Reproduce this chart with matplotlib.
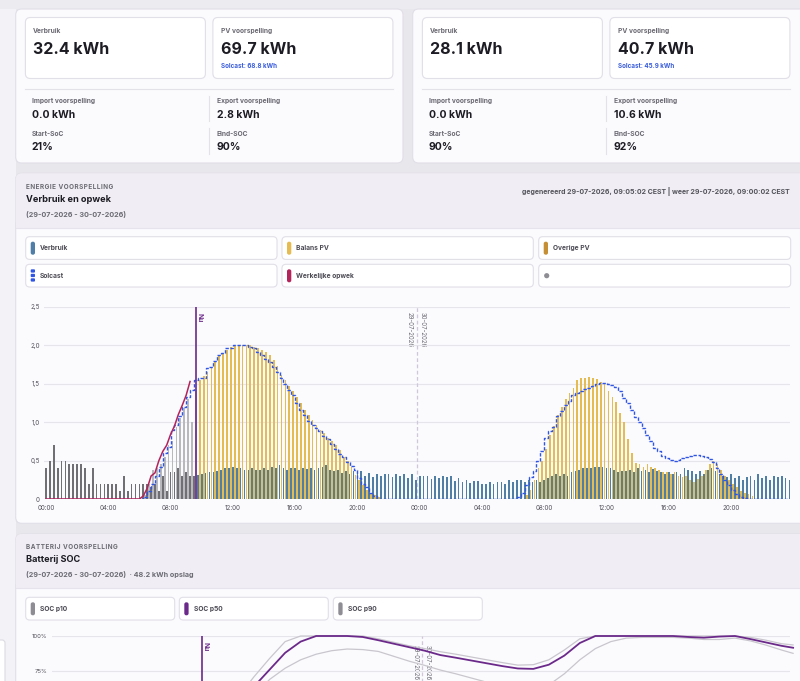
import numpy as np
import matplotlib.pyplot as plt
from matplotlib.patches import FancyBboxPatch, Rectangle, Circle

W, H = 800, 681
plt.rcParams['font.family'] = ['Inter', 'DejaVu Sans']

# ---- energy chart data (15 minute slots, two days) ----
verbruik = [
    0.40, 0.50, 0.70, 0.40, 0.50, 0.50, 0.45, 0.45,
    0.45, 0.45, 0.40, 0.20, 0.40, 0.20, 0.20, 0.20,
    0.20, 0.20, 0.20, 0.10, 0.30, 0.10, 0.20, 0.20,
    0.20, 0.20, 0.20, 0.15, 0.20, 0.10, 0.30, 0.10,
    0.35, 0.35, 0.40, 0.30, 0.35, 0.30, 0.30, 0.31,
    0.33, 0.34, 0.35, 0.35, 0.36, 0.38, 0.40, 0.41,
    0.42, 0.41, 0.40, 0.38, 0.38, 0.40, 0.38, 0.38,
    0.40, 0.38, 0.42, 0.40, 0.44, 0.40, 0.38, 0.40,
    0.40, 0.38, 0.40, 0.39, 0.40, 0.38, 0.40, 0.42,
    0.44, 0.38, 0.36, 0.38, 0.34, 0.36, 0.32, 0.36,
    0.34, 0.36, 0.30, 0.34, 0.28, 0.32, 0.30, 0.33,
    0.32, 0.28, 0.32, 0.30, 0.32, 0.27, 0.32, 0.25,
    0.30, 0.30, 0.30, 0.26, 0.30, 0.27, 0.30, 0.28,
    0.30, 0.24, 0.27, 0.22, 0.25, 0.21, 0.24, 0.24,
    0.20, 0.20, 0.22, 0.20, 0.22, 0.22, 0.20, 0.25,
    0.22, 0.25, 0.25, 0.22, 0.25, 0.22, 0.25, 0.22,
    0.25, 0.27, 0.30, 0.32, 0.30, 0.33, 0.30, 0.35,
    0.37, 0.38, 0.40, 0.40, 0.41, 0.42, 0.42, 0.42,
    0.41, 0.40, 0.38, 0.35, 0.37, 0.36, 0.38, 0.35,
    0.40, 0.36, 0.38, 0.35, 0.39, 0.36, 0.35, 0.32,
    0.35, 0.33, 0.35, 0.32, 0.40, 0.38, 0.36, 0.33,
    0.36, 0.33, 0.38, 0.40, 0.36, 0.33, 0.30, 0.28,
    0.32, 0.27, 0.30, 0.25, 0.28, 0.30, 0.25, 0.32,
    0.27, 0.30, 0.25, 0.30, 0.28, 0.30, 0.27, 0.25,
]

pv = [
    0, 0, 0, 0, 0, 0, 0, 0,
    0, 0, 0, 0, 0, 0, 0, 0,
    0, 0, 0, 0, 0, 0, 0, 0,
    0.00, 0.05, 0.20, 0.38, 0.40, 0.45, 0.55, 0.70,
    0.75, 0.94, 1.05, 1.18, 1.30, 1.00, 1.42, 1.55,
    1.60, 1.66, 1.72, 1.79, 1.86, 1.90, 1.94, 1.98,
    1.99, 2.00, 2.00, 2.00, 2.00, 1.98, 1.96, 1.94,
    1.92, 1.88, 1.81, 1.73, 1.62, 1.55, 1.47, 1.40,
    1.33, 1.25, 1.16, 1.10, 1.03, 0.97, 0.90, 0.86,
    0.79, 0.75, 0.70, 0.64, 0.55, 0.49, 0.42, 0.31,
    0.25, 0.18, 0.12, 0.07, 0.05, 0.03, 0.00, 0.00,
    0, 0, 0, 0, 0, 0, 0, 0,
    0, 0, 0, 0, 0, 0, 0, 0,
    0, 0, 0, 0, 0, 0, 0, 0,
    0, 0, 0, 0, 0, 0, 0, 0,
    0.00, 0.00, 0.00, 0.05, 0.12, 0.25, 0.40, 0.50,
    0.65, 0.83, 0.95, 1.10, 1.20, 1.30, 1.38, 1.45,
    1.55, 1.57, 1.58, 1.59, 1.58, 1.56, 1.52, 1.50,
    1.40, 1.33, 1.26, 1.12, 1.00, 0.78, 0.60, 0.47,
    0.45, 0.42, 0.45, 0.42, 0.40, 0.38, 0.35, 0.35,
    0.33, 0.35, 0.30, 0.28, 0.30, 0.25, 0.22, 0.26,
    0.30, 0.38, 0.45, 0.50, 0.45, 0.38, 0.30, 0.25,
    0.20, 0.15, 0.10, 0.08, 0.06, 0.04, 0.00, 0.00,
    0, 0, 0, 0, 0, 0, 0, 0,
]

solcast = [
    0, 0, 0, 0, 0, 0, 0, 0,
    0, 0, 0, 0, 0, 0, 0, 0,
    0, 0, 0, 0, 0, 0, 0, 0,
    0.00, 0.03, 0.10, 0.20, 0.30, 0.42, 0.60, 0.68,
    0.90, 0.97, 1.08, 1.20, 1.33, 1.42, 1.55, 1.57,
    1.57, 1.70, 1.72, 1.80, 1.88, 1.90, 1.96, 1.97,
    2.00, 2.00, 2.01, 2.01, 1.98, 1.96, 1.92, 1.88,
    1.82, 1.78, 1.72, 1.65, 1.57, 1.50, 1.42, 1.35,
    1.25, 1.16, 1.10, 1.02, 0.97, 0.93, 0.88, 0.82,
    0.78, 0.72, 0.65, 0.58, 0.55, 0.48, 0.43, 0.38,
    0.27, 0.20, 0.15, 0.08, 0.04, 0.00, 0.00, 0.00,
    0, 0, 0, 0, 0, 0, 0, 0,
    0, 0, 0, 0, 0, 0, 0, 0,
    0, 0, 0, 0, 0, 0, 0, 0,
    0, 0, 0, 0, 0, 0, 0, 0,
    0.00, 0.02, 0.08, 0.18, 0.29, 0.36, 0.50, 0.62,
    0.80, 0.88, 0.94, 1.08, 1.15, 1.22, 1.27, 1.35,
    1.38, 1.40, 1.43, 1.45, 1.47, 1.50, 1.51, 1.51,
    1.50, 1.49, 1.46, 1.40, 1.31, 1.25, 1.16, 1.07,
    1.00, 0.92, 0.83, 0.75, 0.66, 0.62, 0.56, 0.53,
    0.51, 0.50, 0.51, 0.53, 0.55, 0.56, 0.57, 0.57,
    0.56, 0.55, 0.52, 0.48, 0.40, 0.32, 0.25, 0.18,
    0.12, 0.07, 0.03, 0.01, 0.00, 0.00, 0.00, 0.00,
    0, 0, 0, 0, 0, 0, 0, 0,
]

werkelijk = [
    0, 0, 0, 0, 0, 0, 0, 0,
    0, 0, 0, 0, 0, 0, 0, 0,
    0, 0, 0, 0, 0, 0, 0, 0,
    0.00, 0.04, 0.14, 0.30, 0.34, 0.50, 0.62, 0.70,
    0.84, 0.95, 1.10, 1.22, 1.35, 1.53,
]

nu = 9.62          # hours since 29-07 00:00
day_split = 23.8
y_ticks = [0, 0.5, 1.0, 1.5, 2.0, 2.5]
y_labels = ['0', '0,5', '1,0', '1,5', '2,0', '2,5']
x_ticks = [0, 4, 8, 12, 16, 20, 24, 28, 32, 36, 40, 44]
x_labels = ['00:00', '04:00', '08:00', '12:00', '16:00', '20:00',
            '00:00', '04:00', '08:00', '12:00', '16:00', '20:00']

# ---- battery SOC data (hourly) ----
soc_hours = [9.6, 10, 11, 12, 13, 14, 15, 16, 17, 18, 19, 20, 21, 22, 23, 24,
             25, 26, 27, 28, 29, 30, 31, 32, 33, 34, 35, 36, 37, 38, 39, 40,
             41, 42, 43, 44, 45, 46, 47, 47.75]
soc_p10 = [21, 23, 33, 45, 57, 69, 77, 83, 87, 89.5, 90.7, 90.3, 89, 85.5, 82, 79,
           75.7, 73, 70, 67, 64.5, 62.5, 62, 65, 73, 83, 91, 96, 98.5, 99, 99, 99,
           98.5, 97.5, 97.5, 98.5, 96.5, 93.5, 90, 87.6]
soc_p50 = [21, 26, 39, 52, 64, 76, 88, 96, 100, 100, 100, 99.3, 97, 94.5, 92, 89.5,
           86.4, 84.5, 82.5, 80.5, 78.5, 76.8, 76.5, 79.5, 86, 95, 100, 100, 100, 100, 100, 100,
           99.3, 98.8, 99.6, 100, 97.8, 95.4, 93, 91.6]
soc_p90 = [21, 27, 42, 57, 71, 84, 96, 100, 100, 100, 100, 100, 98, 95.5, 93, 91,
           88.8, 87, 85, 83, 81, 79.2, 79.5, 83, 90, 98, 100, 100, 100, 100, 100, 100,
           100, 100, 100, 100, 99, 97, 94.5, 93.6]
soc_ticks = [75, 100]
soc_labels = ['75%', '100%']

# ---- colours ----
C_TEXT = '#1d1c24'
C_MUTED = '#6c6b74'
C_BORDER = '#e1dfe7'
C_CARD = '#fbfafd'
C_HEAD = '#f0eef4'
C_VERBRUIK = '#4f7fa6'
C_BALANS = '#e4bc52'
C_OVERIG = '#c48f35'
C_SOLCAST = '#2f55e4'
C_WERKELIJK = '#b3245a'
C_NU = '#6b2a8a'

fig = plt.figure(figsize=(W / 100, H / 100), dpi=100)
fig.patch.set_facecolor('#e8e7ec')
bg = fig.add_axes([0, 0, 1, 1])
bg.set_xlim(0, W)
bg.set_ylim(H, 0)
bg.axis('off')


def box(x0, y0, x1, y1, fc, ec='none', r=5, lw=0.8, z=1):
    bg.add_patch(FancyBboxPatch((x0, y0), x1 - x0, y1 - y0,
                                boxstyle=f'round,pad=0,rounding_size={r}',
                                fc=fc, ec=ec, lw=lw, zorder=z))


def txt(x, y, s, size, color=C_TEXT, weight='bold', **kw):
    bg.text(x, y, s, fontsize=size, color=color, fontweight=weight,
            va='center', zorder=5, **kw)


def spaced(s):
    return '\u200a'.join(s)


def pill(x, y, color, h=13):
    box(x, y, x + 4.3, y + h, color, r=2, z=3)


# page background pieces
bg.add_patch(Rectangle((0, 0), 15.7, H, fc='#f3f2f6', zorder=0))
bg.add_patch(Rectangle((0, 0), W, 9, fc='#ecebf0', zorder=0))
box(-10, 640, 5, 700, 'white', '#dddbe3', r=3)

# ---- summary cards ----
summaries = [
    (15.7, 403, '32.4 kWh', '69.7 kWh', 'Solcast: 68.8 kWh', '0.0 kWh', '2.8 kWh', '21%', '90%'),
    (412.7, 812, '28.1 kWh', '40.7 kWh', 'Solcast: 45.9 kWh', '0.0 kWh', '10.6 kWh', '90%', '92%'),
]
for x0, x1, verb, pvv, sol, imp, exp, soc0, soc1 in summaries:
    box(x0, 9, x1, 163, C_CARD, C_BORDER, r=6)
    bx = x0 + 9.7
    half = bx + 180
    box(bx, 17.5, bx + 180, 78.5, 'white', C_BORDER, r=5, z=2)
    box(half + 7.5, 17.5, half + 187.5, 78.5, 'white', C_BORDER, r=5, z=2)
    txt(bx + 7.5, 31, 'Verbruik', 4.8, C_MUTED)
    txt(bx + 7.5, 49, verb, 11.5)
    txt(half + 15.5, 31, 'PV voorspelling', 4.8, C_MUTED)
    txt(half + 15.5, 49, pvv, 11.5)
    txt(half + 15.5, 66, sol, 4.5, '#3a5ddc')
    bg.plot([bx, half + 187.5], [88.5, 88.5], color='#e4e2e9', lw=0.8, zorder=2)
    bg.plot([half + 4, half + 4], [96, 121], color='#e4e2e9', lw=0.8, zorder=2)
    bg.plot([half + 4, half + 4], [128, 154], color='#e4e2e9', lw=0.8, zorder=2)
    txt(bx + 6.5, 101, 'Import voorspelling', 4.8, C_MUTED)
    txt(bx + 6.5, 114.5, imp, 7.5)
    txt(bx + 6.5, 134, 'Start-SoC', 4.8, C_MUTED)
    txt(bx + 6.5, 146.5, soc0, 7.5)
    txt(half + 11.5, 101, 'Export voorspelling', 4.8, C_MUTED)
    txt(half + 11.5, 114.5, exp, 7.5)
    txt(half + 11.5, 134, 'Eind-SOC', 4.8, C_MUTED)
    txt(half + 11.5, 146.5, soc1, 7.5)

# ---- energy card ----
box(15.7, 173.3, 812, 523.3, C_CARD, C_BORDER, r=6)
box(15.7, 173.3, 812, 227.5, C_HEAD, 'none', r=6, z=1.5)
bg.add_patch(Rectangle((16.2, 215), 795, 12.5, fc=C_HEAD, zorder=1.5))
bg.plot([16, 800], [227.5, 227.5], color='#e6e3ec', lw=0.8, zorder=2)
txt(25.7, 186.7, spaced('ENERGIE VOORSPELLING'), 4.6, C_MUTED)
txt(25.7, 200, 'Verbruik en opwek', 6.6)
txt(25.7, 214, '(29-07-2026 - 30-07-2026)', 5.2, C_MUTED)
txt(790, 191, 'gegenereerd 29-07-2026, 09:05:02 CEST | weer 29-07-2026, 09:00:02 CEST',
    5.0, '#55545c', ha='right')

legend_cells = [
    (25.7, 277, 236.7, 'Verbruik', C_VERBRUIK),
    (282, 533.3, 236.7, 'Balans PV', C_BALANS),
    (538.7, 790.7, 236.7, 'Overige PV', C_OVERIG),
    (25.7, 277, 264.3, 'Solcast', None),
    (282, 533.3, 264.3, 'Werkelijke opwek', C_WERKELIJK),
    (538.7, 790.7, 264.3, '', None),
]
for lx0, lx1, ly, label, col in legend_cells:
    box(lx0, ly, lx1, ly + 22.7, 'white', C_BORDER, r=4, z=2)
    if col is not None:
        pill(lx0 + 5, ly + 5, col)
    elif label == 'Solcast':
        for dy in (5, 9.5, 14):
            box(lx0 + 5, ly + dy, lx0 + 9.3, ly + dy + 3.3, C_SOLCAST, r=1, z=3)
    else:
        bg.add_patch(Circle((lx0 + 8, ly + 11.4), 2.6, fc='#8e8d94', zorder=3))
    if label:
        txt(lx0 + 14.5, ly + 11.4, label, 4.8, '#4d4c55')

# energy chart
ax1 = fig.add_axes([44 / W, 1 - 499 / H, (790 - 44) / W, (499 - 307) / H])
ax1.set_facecolor('none')
t = np.arange(len(verbruik)) * 0.25
past = t < nu
v_cols = np.where(past, '#6f6f74', C_VERBRUIK)
p_cols = np.where(past, '#b9b9bd', C_BALANS)
ax1.bar(t, verbruik, width=0.11, color=v_cols, lw=0, antialiased=False, zorder=3)
ax1.bar(t + 0.125, pv, width=0.11, color=p_cols, lw=0, antialiased=False, zorder=2)
ax1.plot(t, solcast, drawstyle='steps-post', color=C_SOLCAST, lw=1.0,
         ls=(0, (2.4, 1.2)), zorder=5)
ax1.plot(t[:len(werkelijk)], werkelijk, color=C_WERKELIJK, lw=1.1, zorder=6)
ax1.axvline(nu, color=C_NU, lw=1.2, zorder=7)
ax1.axvline(day_split, color='#cfc8da', lw=0.9, ls=(0, (3, 2)), zorder=1)
ax1.set_xlim((44 - 46) / 15.57, (790 - 46) / 15.57)
ax1.set_ylim(0, 2.5)
ax1.set_yticks(y_ticks)
ax1.set_yticklabels(y_labels)
ax1.set_xticks(x_ticks)
ax1.set_xticklabels(x_labels)
ax1.tick_params(length=0, labelsize=4.5, labelcolor='#55545c', pad=3)
ax1.tick_params(axis='x', pad=4.5)
ax1.yaxis.grid(True, color='#e7e5ec', lw=0.8)
ax1.set_axisbelow(True)
for s in ax1.spines.values():
    s.set_visible(False)

bg.text(200, 318, 'Nu', rotation=270, fontsize=4.8, color=C_NU, fontweight='bold',
        ha='center', va='center', zorder=6)
bg.text(409.5, 330, '29-07-2026', rotation=270, fontsize=4.4, color='#6c6b74',
        ha='center', va='center', zorder=6)
bg.text(423, 330, '30-07-2026', rotation=270, fontsize=4.4, color='#6c6b74',
        ha='center', va='center', zorder=6)

# ---- battery card ----
box(15.7, 534, 812, 720, C_CARD, C_BORDER, r=6)
box(15.7, 534, 812, 588.3, C_HEAD, 'none', r=6, z=1.5)
bg.add_patch(Rectangle((16.2, 576), 795, 12.3, fc=C_HEAD, zorder=1.5))
bg.plot([16, 800], [588.3, 588.3], color='#e6e3ec', lw=0.8, zorder=2)
txt(25.7, 547.3, spaced('BATTERIJ VOORSPELLING'), 4.6, C_MUTED)
txt(25.7, 560, 'Batterij SOC', 6.6)
txt(25.7, 574, '(29-07-2026 - 30-07-2026)  \u00b7 48.2 kWh opslag', 5.2, C_MUTED)

soc_legend = [(25.7, 174.7, 'SOC p10', '#8e8d94'),
              (179.3, 328.3, 'SOC p50', '#6b2a8a'),
              (333.3, 482.3, 'SOC p90', '#8e8d94')]
for lx0, lx1, label, col in soc_legend:
    box(lx0, 597.3, lx1, 620, 'white', C_BORDER, r=4, z=2)
    pill(lx0 + 5, 602.3, col)
    txt(lx0 + 14.6, 609, label, 4.8, '#4d4c55')

ax2 = fig.add_axes([52 / W, 1 - 776 / H, (790 - 52) / W, 140 / H])
ax2.set_facecolor('none')
ax2.plot(soc_hours, soc_p10, color='#c9c7cd', lw=0.9, zorder=3, clip_on=False)
ax2.plot(soc_hours, soc_p90, color='#c9c7cd', lw=0.9, zorder=3, clip_on=False)
ax2.plot(soc_hours, soc_p50, color=C_NU, lw=1.3, zorder=4, clip_on=False)
ax2.axvline(nu, color=C_NU, lw=1.2, zorder=5)
ax2.axvline(day_split, color='#cfc8da', lw=0.9, ls=(0, (3, 2)), zorder=1)
ax2.set_xlim((52 - 52.5) / 15.51, (790 - 52.5) / 15.51)
ax2.set_ylim(0, 100)
ax2.set_yticks(soc_ticks)
ax2.set_yticklabels(soc_labels)
ax2.set_xticks([])
ax2.tick_params(length=0, labelsize=4.3, labelcolor='#55545c', pad=3.6)
ax2.yaxis.grid(True, color='#e7e5ec', lw=0.8)
ax2.set_axisbelow(True)
for s in ax2.spines.values():
    s.set_visible(False)

bg.text(205.5, 647, 'Nu', rotation=270, fontsize=4.8, color=C_NU, fontweight='bold',
        ha='center', va='center', zorder=6)
bg.text(415.7, 663, '29-07-2026', rotation=270, fontsize=4.4, color='#6c6b74',
        ha='center', va='center', zorder=6)
bg.text(427.3, 663, '30-07-2026', rotation=270, fontsize=4.4, color='#6c6b74',
        ha='center', va='center', zorder=6)

fig.savefig('out.png', dpi=100, facecolor=fig.get_facecolor())
